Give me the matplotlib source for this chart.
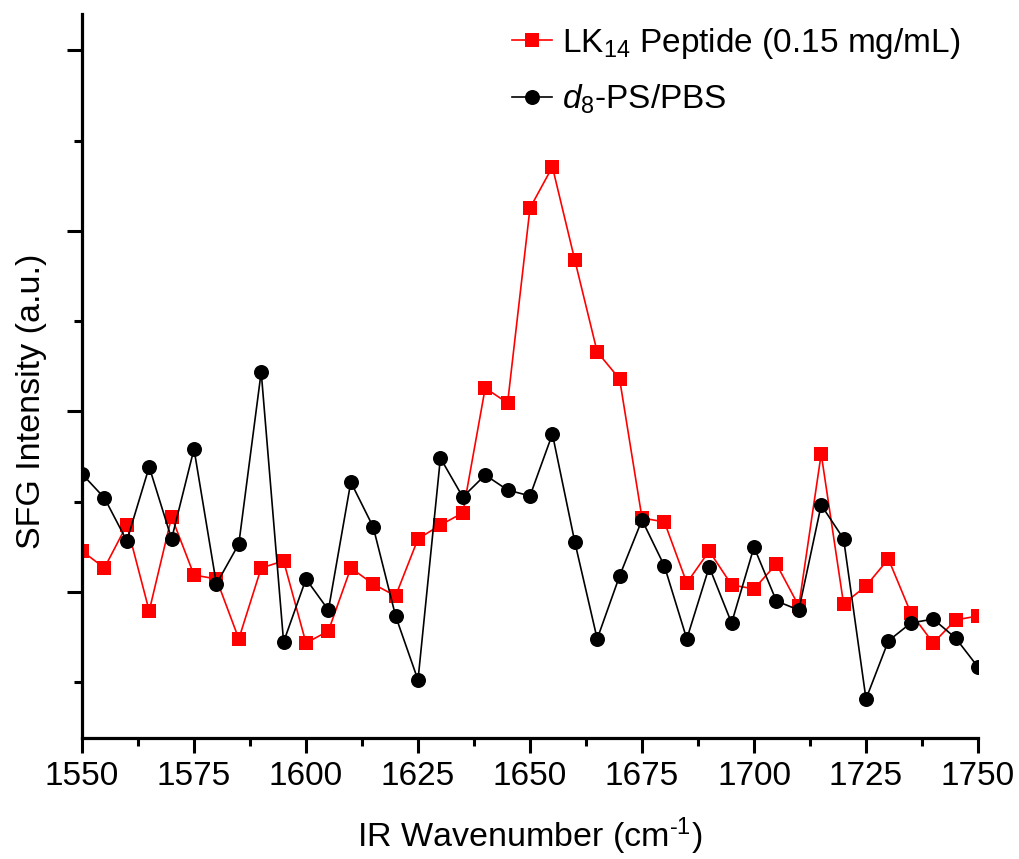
import numpy as np
import matplotlib
matplotlib.use("Agg")
import matplotlib.pyplot as plt
from matplotlib.ticker import MultipleLocator

plt.rcParams['font.family'] = ['Liberation Sans', 'DejaVu Sans']
plt.rcParams['mathtext.fontset'] = 'custom'
plt.rcParams['mathtext.rm'] = 'Liberation Sans'
plt.rcParams['mathtext.it'] = 'Liberation Sans:italic'
plt.rcParams['mathtext.bf'] = 'Liberation Sans:bold'

# IR wavenumber grid (cm^-1)
wavenumber = np.arange(1550, 1751, 5)

# SFG intensity, arbitrary units
lk14_peptide = [
    122.7, 113.3, 137.1, 89.5, 141.6, 109.4, 107.2, 74.0, 113.3, 117.2,
    71.7, 78.4, 113.3, 104.4, 97.8, 129.4, 137.1, 143.8, 213.0, 204.7,
    312.7, 335.5, 283.9, 233.0, 218.0, 141.0, 138.8, 105.0, 122.7, 103.9,
    101.7, 115.5, 92.2, 176.5, 93.4, 103.3, 118.3, 88.4, 71.7, 84.5,
    86.7,
]
d8_ps_pbs = [
    165.4, 152.1, 128.3, 169.3, 129.4, 179.2, 104.4, 126.6, 221.9, 72.3,
    107.2, 90.0, 160.9, 136.0, 86.7, 51.2, 174.2, 152.6, 164.8, 156.5,
    153.2, 187.5, 127.7, 74.0, 108.9, 139.9, 114.4, 74.0, 113.9, 82.8,
    124.9, 95.0, 90.0, 148.2, 129.4, 40.7, 72.9, 82.8, 85.0, 74.5,
    58.4,
]

label_peptide = r'LK$_{14}$ Peptide (0.15 mg/mL)'
label_pbs = r'$d_{8}$-PS/PBS'
xlabel = 'IR Wavenumber (cm$^{\\mathrm{\u2010}1}$)'
ylabel = 'SFG Intensity (a.u.)'
xticks = [1550, 1575, 1600, 1625, 1650, 1675, 1700, 1725, 1750]

fig = plt.figure(figsize=(10.2, 8.59), dpi=100)
ax = fig.add_axes([82 / 1020, 1 - 738 / 859, (978 - 82) / 1020, (738 - 14) / 859])

ax.plot(wavenumber, lk14_peptide, color='#ff0000', lw=1.2, marker='s',
        markersize=10, markeredgewidth=0, label=label_peptide, zorder=2)
ax.plot(wavenumber, d8_ps_pbs, color='black', lw=1.2, marker='o',
        markersize=10.8, markeredgewidth=0, label=label_pbs, zorder=3)

ax.set_xlim(1550, 1750)
ax.set_ylim(19.1, 420.2)
ax.set_xticks(xticks)
ax.xaxis.set_minor_locator(MultipleLocator(12.5))
ax.yaxis.set_major_locator(MultipleLocator(100))
ax.yaxis.set_minor_locator(MultipleLocator(50))

for side in ('top', 'right'):
    ax.spines[side].set_visible(False)
for side in ('left', 'bottom'):
    ax.spines[side].set_linewidth(2.3)

ax.tick_params(axis='both', which='major', direction='out', length=10.5,
               width=2.2, labelsize=24, pad=6)
ax.tick_params(axis='both', which='minor', direction='out', length=5.5,
               width=2.2)
ax.tick_params(axis='y', which='both', labelleft=False)

ax.set_xlabel(xlabel, fontsize=24.5, labelpad=17)
ax.set_ylabel(ylabel, fontsize=24.5)
ax.yaxis.set_label_coords(-0.039, 0.465)

leg = ax.legend(loc='upper left', bbox_to_anchor=(512 / 1020, 1 - 26 / 859),
                bbox_transform=fig.transFigure, frameon=False, fontsize=24,
                handlelength=1.2, handletextpad=0.3, labelspacing=0.65,
                borderpad=0, borderaxespad=0)

fig.savefig('out.png', dpi=100)
